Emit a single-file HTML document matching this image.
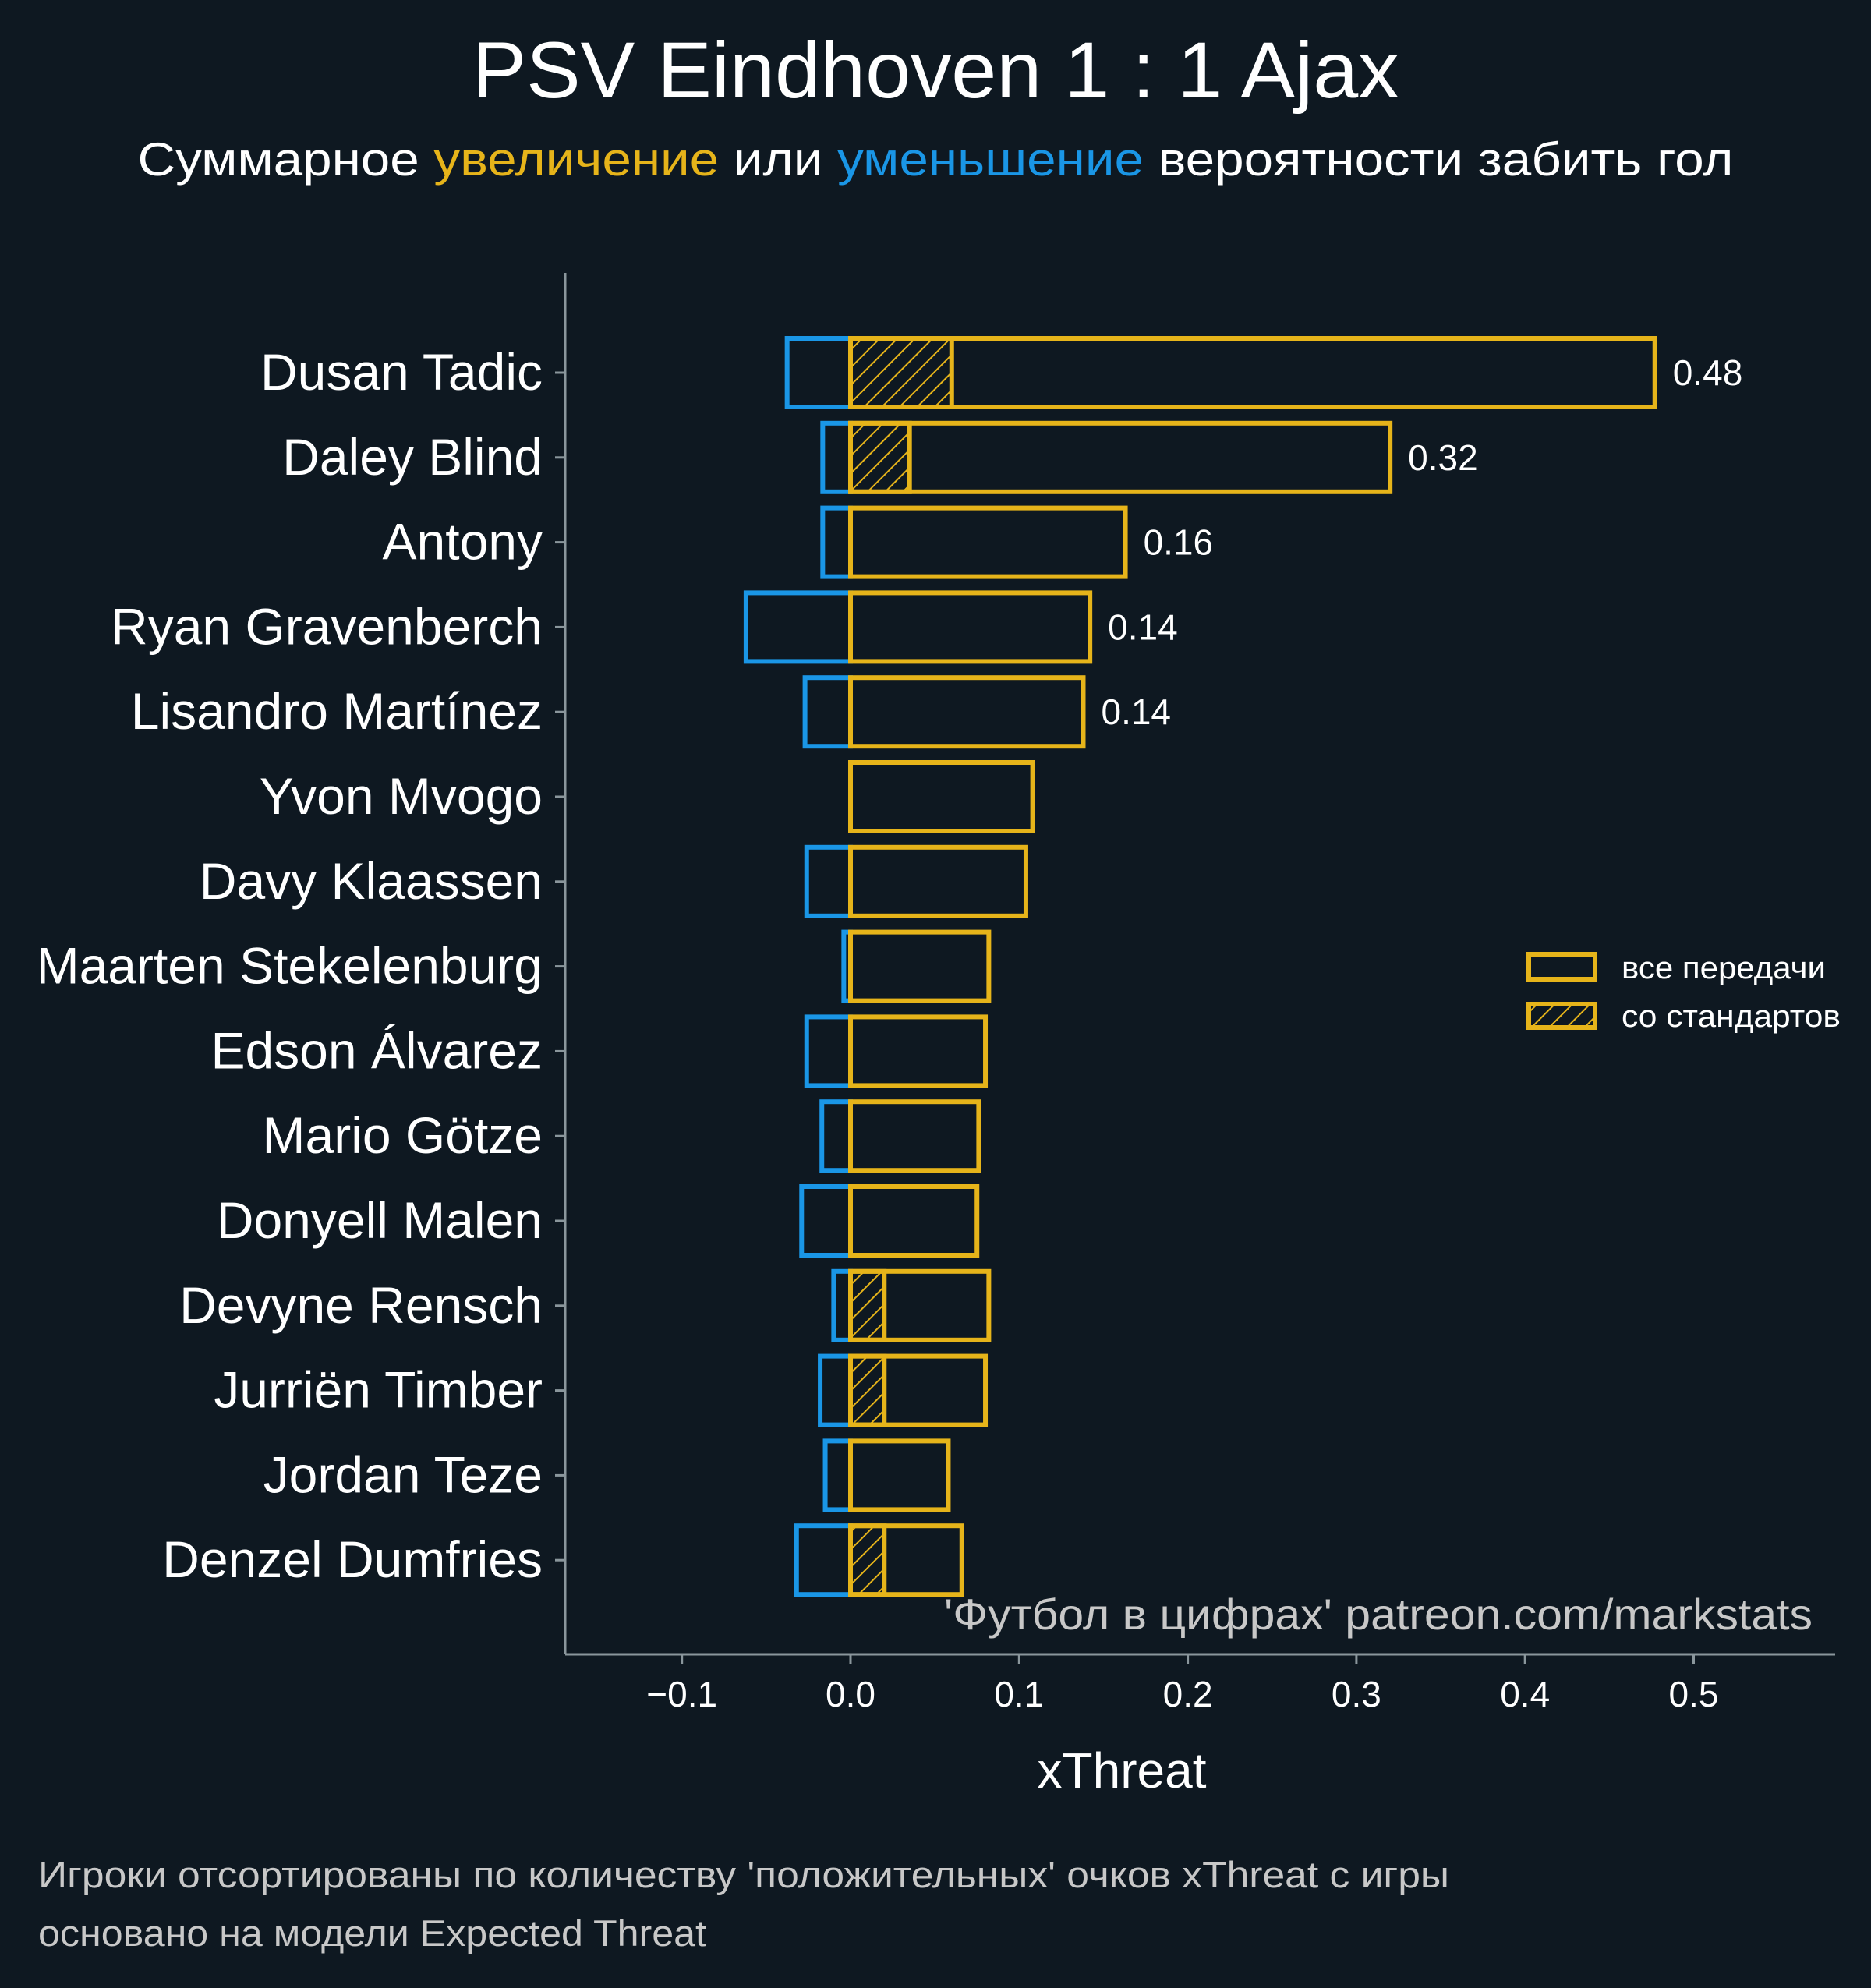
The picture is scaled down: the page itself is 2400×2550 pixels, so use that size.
<!DOCTYPE html>
<html><head><meta charset="utf-8">
<style>
html,body{margin:0;padding:0;background:#0e1821;}
svg{display:block;font-family:"Liberation Sans","DejaVu Sans",sans-serif;}
</style></head>
<body>
<svg id="chart" width="2400" height="2550" viewBox="0 0 2400 2550" xmlns="http://www.w3.org/2000/svg">
<defs>
<pattern id="hatch" patternUnits="userSpaceOnUse" width="16" height="16" patternTransform="rotate(45)">
<line x1="0" y1="0" x2="0" y2="16" stroke="#e6b41a" stroke-width="4"/>
</pattern>
</defs>
<rect width="2400" height="2550" fill="#0e1821"/>
<text x="1200" y="125" text-anchor="middle" font-size="102" textLength="1189" lengthAdjust="spacingAndGlyphs" fill="#ffffff">PSV Eindhoven 1 : 1 Ajax</text>
<text x="1200" y="225" text-anchor="middle" font-size="60" textLength="2047" lengthAdjust="spacingAndGlyphs" fill="#ffffff">Суммарное <tspan fill="#e6b41a">увеличение</tspan> или <tspan fill="#1a96e6">уменьшение</tspan> вероятности забить гол</text>
<g id="plot"></g>
<line x1="725" y1="350" x2="725" y2="2122" stroke="#8a969c" stroke-width="3"/>
<line x1="725" y1="2122" x2="2354" y2="2122" stroke="#8a969c" stroke-width="3"/>
<text x="1439" y="2293" text-anchor="middle" font-size="64" fill="#ffffff">xThreat</text>
<text x="2325" y="2090" text-anchor="end" font-size="56" textLength="1114" lengthAdjust="spacingAndGlyphs" fill="#c8c8c8">'Футбол в цифрах' patreon.com/markstats</text>
<text x="49" y="2421" font-size="47" textLength="1810" lengthAdjust="spacingAndGlyphs" fill="#c8c8c8">Игроки отсортированы по количеству 'положительных' очков xThreat с игры</text>
<text x="49" y="2496" font-size="47" textLength="857" lengthAdjust="spacingAndGlyphs" fill="#c8c8c8">основано на модели Expected Threat</text>
<g>
<rect x="1961" y="1224" width="85" height="32" fill="none" stroke="#e6b41a" stroke-width="6"/>
<text x="2080" y="1255" font-size="40" textLength="262" lengthAdjust="spacingAndGlyphs" fill="#ffffff">все передачи</text>
<rect x="1961" y="1288" width="85" height="30" fill="url(#hatch)" stroke="#e6b41a" stroke-width="6"/>
<text x="2080" y="1317" font-size="40" textLength="281" lengthAdjust="spacingAndGlyphs" fill="#ffffff">со стандартов</text>
</g>
</svg>
<script>
const players = ["Dusan Tadic","Daley Blind","Antony","Ryan Gravenberch","Lisandro Martínez","Yvon Mvogo","Davy Klaassen","Maarten Stekelenburg","Edson Álvarez","Mario Götze","Donyell Malen","Devyne Rensch","Jurriën Timber","Jordan Teze","Denzel Dumfries"];
const positiveValues = [0.477,0.320,0.163,0.142,0.138,0.108,0.104,0.082,0.080,0.076,0.075,0.082,0.080,0.058,0.066];
const negativeValues = [-0.0376,-0.0165,-0.0165,-0.062,-0.027,0,-0.026,-0.004,-0.026,-0.017,-0.029,-0.010,-0.018,-0.015,-0.032];
const setPieceValues = [0.060,0.035,0,0,0,0,0,0,0,0,0,0.020,0.020,0,0.020];
const valueLabels = ["0.48","0.32","0.16","0.14","0.14"];
const xTicks = [-0.1,0.0,0.1,0.2,0.3,0.4,0.5];
const xTickLabels = ["−0.1","0.0","0.1","0.2","0.3","0.4","0.5"];

const NS="http://www.w3.org/2000/svg";
const plot=document.getElementById('plot');
const x=v=>1091+v*2163;
const y=i=>478+i*108.8;
const BH=88, YEL="#e6b41a", BLU="#1a96e6";
function mk(tag,attrs){const e=document.createElementNS(NS,tag);for(const k in attrs)e.setAttribute(k,attrs[k]);plot.appendChild(e);return e;}

xTicks.forEach((t,i)=>{
  const tk=mk('line',{x1:x(t),x2:x(t),y1:2122,y2:2134,stroke:"#8a969c","stroke-width":3});
  
  
  const lb=mk('text',{x:x(t),y:2189,"text-anchor":"middle","font-size":46,fill:"#ffffff"});
  lb.textContent=xTickLabels[i];
  
  
});

players.forEach((p,i)=>{
  const cy=y(i), top=cy-BH/2;
  const tk=mk('line',{x1:712,x2:725,y1:cy,y2:cy,stroke:"#8a969c","stroke-width":3});
  
  
  const lb=mk('text',{x:696,y:cy+22,"text-anchor":"end","font-size":66,fill:"#ffffff"});
  lb.textContent=p;
  
  
  if(negativeValues[i]<0){
    const nb=mk('rect',{x:x(negativeValues[i]),y:top,width:x(0)-x(negativeValues[i]),height:BH,fill:"none",stroke:BLU,"stroke-width":6});
    
    
  }
  if(setPieceValues[i]>0){
    const sb=mk('rect',{x:x(0),y:top,width:x(setPieceValues[i])-x(0),height:BH,fill:"url(#hatch)",stroke:YEL,"stroke-width":6});
    
    
  }
  const pb=mk('rect',{x:x(0),y:top,width:x(positiveValues[i])-x(0),height:BH,fill:"none",stroke:YEL,"stroke-width":6});
  
  
  if(i<valueLabels.length){
    const vl=mk('text',{x:x(positiveValues[i])+23,y:cy+16,"font-size":46,fill:"#ffffff"});
    vl.textContent=valueLabels[i];
    
    
  }
});
</script>
</body></html>
